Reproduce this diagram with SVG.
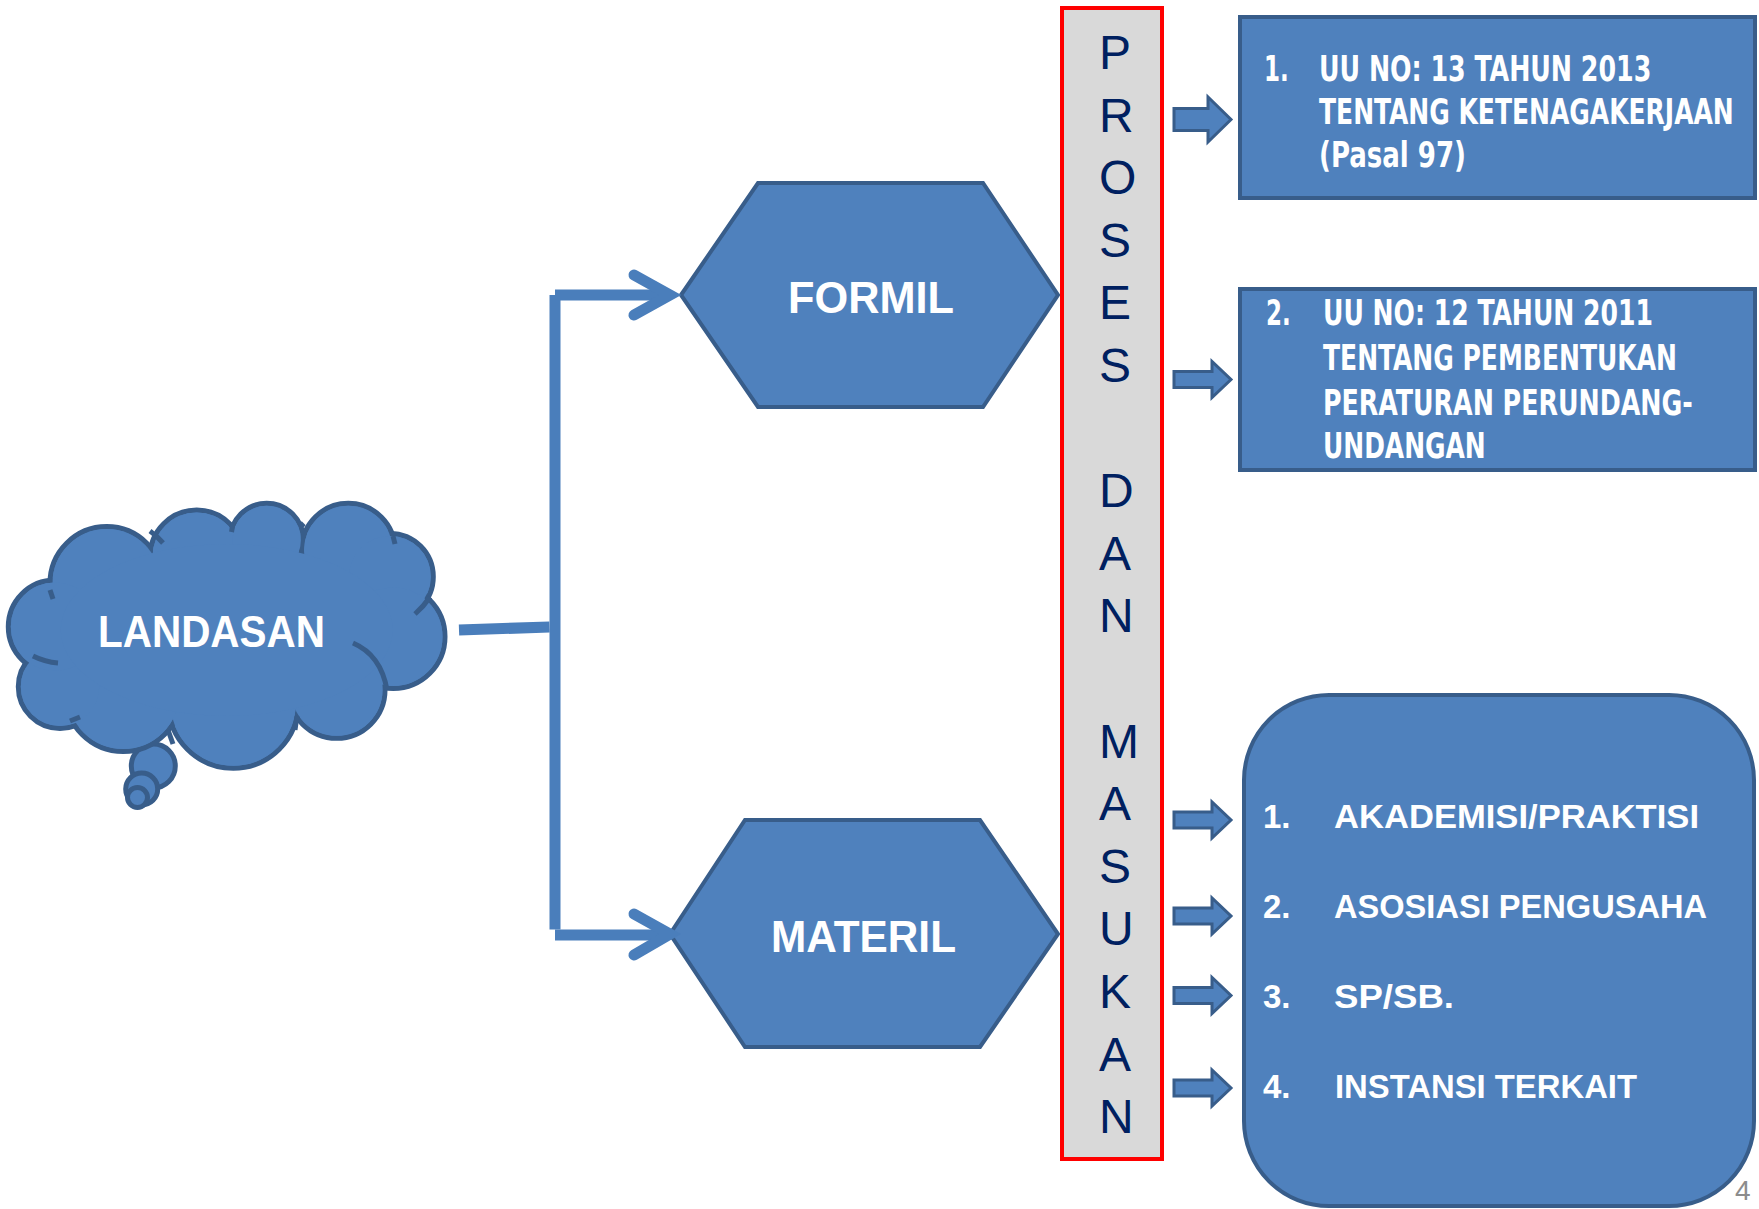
<svg xmlns="http://www.w3.org/2000/svg" xmlns:xlink="http://www.w3.org/1999/xlink" width="1759" height="1209" viewBox="0 0 1759 1209">
<style>
.shape{fill:#4F81BD;stroke:#385D8A;stroke-width:4}
.lbl{font-family:"Liberation Sans",Arial,sans-serif;font-weight:bold;fill:#FFFFFF}
.nar{font-family:"Liberation Sans Narrow","DejaVu Sans Condensed","Liberation Sans",sans-serif;font-weight:bold;font-size:36px;fill:#FFFFFF}
.lst{font-family:"Liberation Sans",Arial,sans-serif;font-weight:bold;font-size:33px;fill:#FFFFFF}
.vert{font-family:"Liberation Sans",Arial,sans-serif;font-size:48px;fill:#002060}
.conn{fill:none;stroke:#4A7EBB;stroke-width:11}
.blk{fill:#4F81BD;stroke:#385D8A;stroke-width:3}
.lobeS{fill:#4F81BD;stroke:#385D8A;stroke-width:5}
.lobeF{fill:#4F81BD;stroke:none}
.inner{fill:none;stroke:#385D8A;stroke-width:5}
</style>
<defs>
<path id="arrS" class="blk" d="M0,-8 H38 V-18 L57,0 L38,18 V8 H0 Z"/>
<path id="arrB" class="blk" d="M0,-11 H34 V-22.5 L57,0 L34,22.5 V11 H0 Z"/>
</defs>

<g id="landasan">
<circle class="lobeS" cx="153.3" cy="766" r="22"/>
<circle class="lobeS" cx="141.7" cy="789" r="16"/>
<circle class="lobeS" cx="137.5" cy="797.5" r="10"/>
<g>
<circle class="lobeS" cx="106.7" cy="583.3" r="56.7"/>
<circle class="lobeS" cx="196.7" cy="556.7" r="46.7"/>
<circle class="lobeS" cx="266.7" cy="540" r="36.7"/>
<circle class="lobeS" cx="348.3" cy="550" r="46.7"/>
<circle class="lobeS" cx="390" cy="576.7" r="43.3"/>
<circle class="lobeS" cx="393.3" cy="636.7" r="51.7"/>
<circle class="lobeS" cx="336.7" cy="690" r="48.3"/>
<circle class="lobeS" cx="233.3" cy="703.3" r="65"/>
<circle class="lobeS" cx="123.3" cy="693.3" r="58.3"/>
<circle class="lobeS" cx="60" cy="686.7" r="41.7"/>
<circle class="lobeS" cx="55" cy="626.7" r="46.7"/>
</g>
<g>
<circle class="lobeF" cx="106.7" cy="583.3" r="54.2"/>
<circle class="lobeF" cx="196.7" cy="556.7" r="44.2"/>
<circle class="lobeF" cx="266.7" cy="540" r="34.2"/>
<circle class="lobeF" cx="348.3" cy="550" r="44.2"/>
<circle class="lobeF" cx="390" cy="576.7" r="40.8"/>
<circle class="lobeF" cx="393.3" cy="636.7" r="49.2"/>
<circle class="lobeF" cx="336.7" cy="690" r="45.8"/>
<circle class="lobeF" cx="233.3" cy="703.3" r="62.5"/>
<circle class="lobeF" cx="123.3" cy="693.3" r="55.8"/>
<circle class="lobeF" cx="60" cy="686.7" r="39.2"/>
<circle class="lobeF" cx="55" cy="626.7" r="44.2"/>
<ellipse class="lobeF" cx="226.7" cy="630" rx="166" ry="86"/>
</g>
<path class="inner" d="M33,656 Q45,662 58,663"/>
<path class="inner" d="M50,590 L53,599"/>
<path class="inner" d="M150,531 Q157,536 163,543"/>
<path class="inner" d="M233,523 L231.5,532"/>
<path class="inner" d="M300,523 L304,527"/>
<path class="inner" d="M393,536 L395,544"/>
<path class="inner" d="M415,614 Q424,606 430,597"/>
<path class="inner" d="M353,643 Q381,655 387,690"/>
<path class="inner" d="M297,716 L295,730"/>
<path class="inner" d="M168,730 L173,744"/>
<path class="inner" d="M70,721 L80,717"/>
<text class="lbl" x="98" y="647" font-size="44" textLength="227" lengthAdjust="spacingAndGlyphs">LANDASAN</text>
</g>

<g id="formil">
<polygon class="shape" points="681,295 758,183 983,183 1058,295 983,407 758,407"/>
<text class="lbl" x="788" y="313" font-size="44" textLength="166" lengthAdjust="spacingAndGlyphs">FORMIL</text>
</g>

<g id="materil">
<polygon class="shape" points="670,934 745,820 980,820 1058,934 980,1047 745,1047"/>
<text class="lbl" x="771" y="952" font-size="45" textLength="185" lengthAdjust="spacingAndGlyphs">MATERIL</text>
</g>

<g id="proses-dan-masukan">
<rect x="1062" y="8" width="100" height="1151" fill="#D9D9D9" stroke="#FF0000" stroke-width="4"/>
<text class="vert">
<tspan x="1099" y="69">P</tspan>
<tspan x="1099" y="131.6">R</tspan>
<tspan x="1099" y="194.2">O</tspan>
<tspan x="1099" y="256.8">S</tspan>
<tspan x="1099" y="319.4">E</tspan>
<tspan x="1099" y="382">S</tspan>
<tspan x="1099" y="507.2">D</tspan>
<tspan x="1099" y="569.8">A</tspan>
<tspan x="1099" y="632.4">N</tspan>
<tspan x="1099" y="757.6">M</tspan>
<tspan x="1099" y="820.2">A</tspan>
<tspan x="1099" y="882.8">S</tspan>
<tspan x="1099" y="945.4">U</tspan>
<tspan x="1099" y="1008">K</tspan>
<tspan x="1099" y="1070.6">A</tspan>
<tspan x="1099" y="1133.2">N</tspan>
</text>
</g>

<g id="uu13">
<rect class="shape" x="1240" y="17" width="515" height="181"/>
<g transform="translate(1264,81) scale(0.75,1)"><text class="nar" x="0" y="0" textLength="33" lengthAdjust="spacingAndGlyphs">1.</text></g>
<g transform="translate(1319,81) scale(0.75,1)"><text class="nar" x="0" y="0" textLength="443" lengthAdjust="spacingAndGlyphs">UU NO: 13 TAHUN 2013</text></g>
<g transform="translate(1319,124) scale(0.75,1)"><text class="nar" x="0" y="0" textLength="553" lengthAdjust="spacingAndGlyphs">TENTANG KETENAGAKERJAAN</text></g>
<g transform="translate(1319,167) scale(0.75,1)"><text class="nar" x="0" y="0" textLength="196" lengthAdjust="spacingAndGlyphs">(Pasal 97)</text></g>
</g>

<g id="uu12">
<rect class="shape" x="1240" y="289" width="515" height="181"/>
<g transform="translate(1266,325) scale(0.75,1)"><text class="nar" x="0" y="0" textLength="33" lengthAdjust="spacingAndGlyphs">2.</text></g>
<g transform="translate(1323,325) scale(0.75,1)"><text class="nar" x="0" y="0" textLength="440" lengthAdjust="spacingAndGlyphs">UU NO: 12 TAHUN 2011</text></g>
<g transform="translate(1323,370) scale(0.75,1)"><text class="nar" x="0" y="0" textLength="472" lengthAdjust="spacingAndGlyphs">TENTANG PEMBENTUKAN</text></g>
<g transform="translate(1323,415) scale(0.75,1)"><text class="nar" x="0" y="0" textLength="493" lengthAdjust="spacingAndGlyphs">PERATURAN PERUNDANG-</text></g>
<g transform="translate(1323,458) scale(0.75,1)"><text class="nar" x="0" y="0" textLength="217" lengthAdjust="spacingAndGlyphs">UNDANGAN</text></g>
</g>

<g id="masukan-list">
<rect class="shape" x="1244" y="695" width="510" height="511" rx="85" ry="85"/>
<text class="lst" x="1263" y="828">1.</text>
<text class="lst" x="1334" y="828" textLength="365" lengthAdjust="spacingAndGlyphs">AKADEMISI/PRAKTISI</text>
<text class="lst" x="1263" y="918">2.</text>
<text class="lst" x="1334" y="918" textLength="373" lengthAdjust="spacingAndGlyphs">ASOSIASI PENGUSAHA</text>
<text class="lst" x="1263" y="1008">3.</text>
<text class="lst" x="1334" y="1008" textLength="120" lengthAdjust="spacingAndGlyphs">SP/SB.</text>
<text class="lst" x="1263" y="1098">4.</text>
<text class="lst" x="1335" y="1098" textLength="302" lengthAdjust="spacingAndGlyphs">INSTANSI TERKAIT</text>
</g>

<g id="connectors">
<line class="conn" x1="459" y1="630" x2="549.5" y2="627"/>
<line class="conn" x1="555" y1="295" x2="555" y2="929.5"/>
<line class="conn" x1="555" y1="295" x2="670" y2="295"/>
<line class="conn" x1="555" y1="935" x2="660" y2="935"/>
<polyline class="conn" points="634,275 670,295 634,315" stroke-linecap="round" stroke-linejoin="miter"/>
<polyline class="conn" points="634,914 670,934 634,955" stroke-linecap="round" stroke-linejoin="miter"/>
<use xlink:href="#arrB" transform="translate(1174,119.5)"/>
<use xlink:href="#arrS" transform="translate(1174,379.5)"/>
<use xlink:href="#arrS" transform="translate(1174,820)"/>
<use xlink:href="#arrS" transform="translate(1174,916)"/>
<use xlink:href="#arrS" transform="translate(1174,995.5)"/>
<use xlink:href="#arrS" transform="translate(1174,1088)"/>
</g>

<text x="1735" y="1200" font-family="Liberation Sans Narrow, Liberation Sans, sans-serif" font-size="28" fill="#8C8C8C">4</text>
</svg>
